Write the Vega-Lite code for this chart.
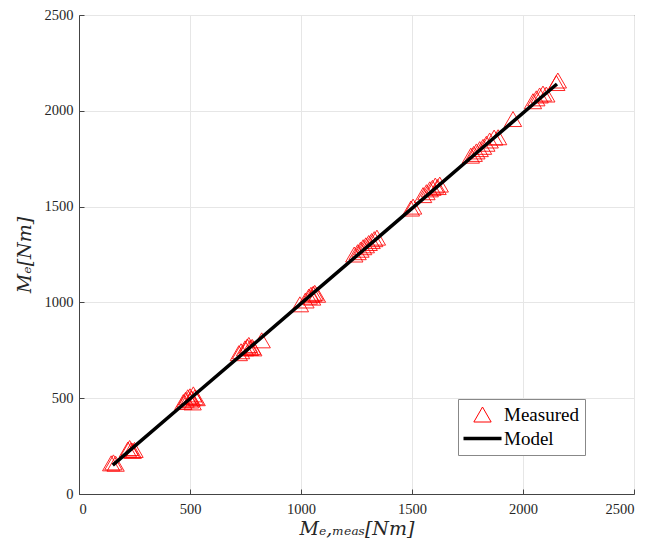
{
  "$schema": "https://vega.github.io/schema/vega-lite/v6.json",
  "width": 555,
  "height": 479,
  "autosize": "none",
  "padding": {"left": 79, "top": 15, "right": 15, "bottom": 47},
  "background": "white",
  "config": {
    "view": {"stroke": "#444", "strokeWidth": 1},
    "font": "Liberation Serif",
    "axis": {
      "labelFont": "Liberation Serif",
      "labelFontSize": 14.5,
      "labelColor": "#262626",
      "domainColor": "#444",
      "tickColor": "#444",
      "gridColor": "#e6e6e6",
      "gridWidth": 1,
      "titleFont": "DejaVu Serif",
      "titleFontStyle": "italic",
      "titleFontWeight": "normal",
      "titleFontSize": 19,
      "titleColor": "#262626"
    }
  },
  "datasets": {
    "measured": [
      {"x": 145, "y": 160, "series": "Measured"},
      {"x": 155, "y": 165, "series": "Measured"},
      {"x": 165, "y": 158, "series": "Measured"},
      {"x": 220, "y": 232, "series": "Measured"},
      {"x": 228, "y": 240, "series": "Measured"},
      {"x": 235, "y": 228, "series": "Measured"},
      {"x": 242, "y": 225, "series": "Measured"},
      {"x": 250, "y": 230, "series": "Measured"},
      {"x": 470, "y": 480, "series": "Measured"},
      {"x": 480, "y": 492, "series": "Measured"},
      {"x": 490, "y": 505, "series": "Measured"},
      {"x": 500, "y": 510, "series": "Measured"},
      {"x": 508, "y": 498, "series": "Measured"},
      {"x": 515, "y": 520, "series": "Measured"},
      {"x": 522, "y": 505, "series": "Measured"},
      {"x": 530, "y": 500, "series": "Measured"},
      {"x": 500, "y": 488, "series": "Measured"},
      {"x": 512, "y": 478, "series": "Measured"},
      {"x": 720, "y": 735, "series": "Measured"},
      {"x": 730, "y": 745, "series": "Measured"},
      {"x": 748, "y": 760, "series": "Measured"},
      {"x": 758, "y": 770, "series": "Measured"},
      {"x": 765, "y": 778, "series": "Measured"},
      {"x": 770, "y": 762, "series": "Measured"},
      {"x": 780, "y": 768, "series": "Measured"},
      {"x": 785, "y": 760, "series": "Measured"},
      {"x": 823, "y": 802, "series": "Measured"},
      {"x": 995, "y": 990, "series": "Measured"},
      {"x": 1020, "y": 1010, "series": "Measured"},
      {"x": 1035, "y": 1030, "series": "Measured"},
      {"x": 1045, "y": 1040, "series": "Measured"},
      {"x": 1055, "y": 1045, "series": "Measured"},
      {"x": 1062, "y": 1050, "series": "Measured"},
      {"x": 1072, "y": 1040, "series": "Measured"},
      {"x": 1050, "y": 1025, "series": "Measured"},
      {"x": 1240, "y": 1250, "series": "Measured"},
      {"x": 1255, "y": 1262, "series": "Measured"},
      {"x": 1268, "y": 1275, "series": "Measured"},
      {"x": 1280, "y": 1288, "series": "Measured"},
      {"x": 1292, "y": 1298, "series": "Measured"},
      {"x": 1305, "y": 1310, "series": "Measured"},
      {"x": 1318, "y": 1320, "series": "Measured"},
      {"x": 1330, "y": 1330, "series": "Measured"},
      {"x": 1342, "y": 1338, "series": "Measured"},
      {"x": 1495, "y": 1490, "series": "Measured"},
      {"x": 1505, "y": 1500, "series": "Measured"},
      {"x": 1550, "y": 1560, "series": "Measured"},
      {"x": 1565, "y": 1575, "series": "Measured"},
      {"x": 1580, "y": 1590, "series": "Measured"},
      {"x": 1592, "y": 1598, "series": "Measured"},
      {"x": 1605, "y": 1610, "series": "Measured"},
      {"x": 1615, "y": 1602, "series": "Measured"},
      {"x": 1625, "y": 1615, "series": "Measured"},
      {"x": 1765, "y": 1766, "series": "Measured"},
      {"x": 1778, "y": 1775, "series": "Measured"},
      {"x": 1790, "y": 1788, "series": "Measured"},
      {"x": 1805, "y": 1800, "series": "Measured"},
      {"x": 1820, "y": 1812, "series": "Measured"},
      {"x": 1835, "y": 1828, "series": "Measured"},
      {"x": 1850, "y": 1845, "series": "Measured"},
      {"x": 1870, "y": 1860, "series": "Measured"},
      {"x": 1888, "y": 1862, "series": "Measured"},
      {"x": 1955, "y": 1957, "series": "Measured"},
      {"x": 2045, "y": 2050, "series": "Measured"},
      {"x": 2060, "y": 2065, "series": "Measured"},
      {"x": 2075, "y": 2080, "series": "Measured"},
      {"x": 2090, "y": 2090, "series": "Measured"},
      {"x": 2105, "y": 2085, "series": "Measured"},
      {"x": 2150, "y": 2145, "series": "Measured"},
      {"x": 2157, "y": 2158, "series": "Measured"}
    ],
    "model": [
      {"x": 152, "y": 151, "series": "Model"},
      {"x": 230, "y": 229, "series": "Model"},
      {"x": 500, "y": 497, "series": "Model"},
      {"x": 760, "y": 755, "series": "Model"},
      {"x": 1040, "y": 1034, "series": "Model"},
      {"x": 1290, "y": 1282, "series": "Model"},
      {"x": 1580, "y": 1570, "series": "Model"},
      {"x": 1820, "y": 1810, "series": "Model"},
      {"x": 2080, "y": 2068, "series": "Model"},
      {"x": 2153, "y": 2140, "series": "Model"}
    ]
  },
  "encoding": {
    "x": {
      "field": "x", "type": "quantitative",
      "scale": {"domain": [0, 2500], "nice": false},
      "axis": {"values": [0, 500, 1000, 1500, 2000, 2500], "format": "d", "title": "Mₑ,ₘₑₐₛ[Nm]", "tickSize": -5, "labelPadding": 13, "titlePadding": 4}
    },
    "y": {
      "field": "y", "type": "quantitative",
      "scale": {"domain": [0, 2500], "nice": false},
      "axis": {"values": [0, 500, 1000, 1500, 2000, 2500], "format": "d", "title": "Mₑ[Nm]", "tickSize": -5, "labelPadding": 11, "titlePadding": 10}
    },
    "color": {
      "field": "series", "type": "nominal",
      "scale": {"domain": ["Measured", "Model"], "range": ["#ff0000", "#000000"]},
      "legend": {
        "title": null,
        "orient": "none",
        "legendX": 379,
        "legendY": 384,
        "fillColor": "white",
        "strokeColor": "#888",
        "padding": 6,
        "labelFont": "Liberation Serif",
        "labelFontSize": 19,
        "labelColor": "black",
        "labelOffset": 12,
        "symbolOffset": 9,
        "rowPadding": 4,
        "symbolSize": 300,
        "encoding": {
          "symbols": {
            "shape": {"value": {"expr": "datum.value === 'Model' ? 'stroke' : 'triangle-up'"}},
            "size": {"value": {"expr": "datum.value === 'Model' ? 1444 : 300"}},
            "strokeWidth": {"value": {"expr": "datum.value === 'Model' ? 3.5 : 1"}},
            "stroke": {"value": {"expr": "datum.value === 'Model' ? '#000000' : '#ff4444'"}},
            "fill": {"value": "transparent"},
            "opacity": {"value": 1}
          }
        }
      }
    }
  },
  "layer": [
    {
      "data": {"name": "measured"},
      "mark": {"type": "point", "shape": "triangle-up", "filled": false, "size": 300, "strokeWidth": 1, "opacity": 0.85}
    },
    {
      "data": {"name": "model"},
      "mark": {"type": "line", "strokeWidth": 3.5}
    }
  ]
}
